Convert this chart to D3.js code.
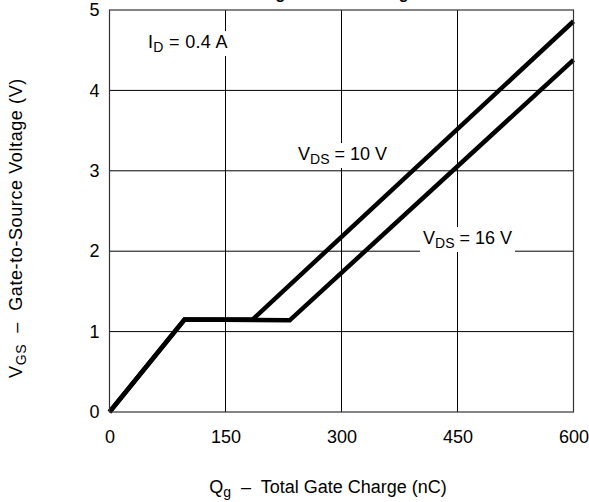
<!DOCTYPE html>
<html><head><meta charset="utf-8">
<script src="https://cdn.jsdelivr.net/npm/d3@7"></script>
<style>html,body{margin:0;padding:0;background:#fff;}svg{display:block;font-family:"Liberation Sans",Arial,sans-serif;}</style>
</head><body>
<script>
const xTicks = [0, 150, 300, 450, 600];
const yTicks = [0, 1, 2, 3, 4, 5];
const seriesNames = ["VDS = 10 V", "VDS = 16 V"];
const q10 = [0, 97, 185, 600];
const v10 = [0, 1.15, 1.15, 4.86];
const q16 = [0, 97, 233, 600];
const v16 = [0, 1.15, 1.14, 4.38];

const W = 589, H = 502;
const m = {left: 109.5, right: 573.5, top: 10, bottom: 412};
const FS = 18;
const svg = d3.select("body").append("svg").attr("width", W).attr("height", H);
const x = d3.scaleLinear().domain([0, 600]).range([m.left, m.right]);
const y = d3.scaleLinear().domain([0, 5]).range([m.bottom, m.top]);

// title (mostly cut off at the top edge, as in the reference)
svg.append("text").attr("x", 199).attr("y", -1)
  .attr("font-weight", "bold").attr("font-size", 16).text("Gate Charge vs Gate Voltage");

// grid
const g = svg.append("g");
g.selectAll(".vg").data(xTicks.slice(1, -1)).enter().append("line")
  .attr("x1", d => x(d)).attr("x2", d => x(d)).attr("y1", m.top).attr("y2", m.bottom)
  .attr("stroke", "#000").attr("stroke-width", 1);
g.selectAll(".hg").data(yTicks.slice(1, -1)).enter().append("line")
  .attr("x1", m.left).attr("x2", m.right).attr("y1", d => y(d)).attr("y2", d => y(d))
  .attr("stroke", "#000").attr("stroke-width", 1);

// axes labels via d3 axes
const xAxis = svg.append("g").attr("transform", `translate(0,${m.bottom})`)
  .call(d3.axisBottom(x).tickValues(xTicks).tickFormat(d3.format("d")).tickSize(0).tickPadding(18));
xAxis.select(".domain").remove();
xAxis.selectAll("text").attr("font-size", FS)
  .attr("font-family", "Liberation Sans, Arial, sans-serif").attr("fill", "#000");
const yAxis = svg.append("g").attr("transform", `translate(${m.left},0)`)
  .call(d3.axisLeft(y).tickValues(yTicks).tickFormat(d3.format("d")).tickSize(0).tickPadding(10));
yAxis.select(".domain").remove();
yAxis.selectAll("text").attr("font-size", FS)
  .attr("font-family", "Liberation Sans, Arial, sans-serif").attr("fill", "#000");

// series
const line = d3.line().x(d => x(d[0])).y(d => y(d[1]));
const series = [d3.zip(q10, v10), d3.zip(q16, v16)];
svg.selectAll(".ser").data(series.slice().reverse()).enter().append("path")
  .attr("d", line).attr("fill", "none").attr("stroke", "#000").attr("stroke-width", 4.5)
  .attr("stroke-linejoin", "miter");

// border
svg.append("rect").attr("x", m.left).attr("y", m.top).attr("width", m.right - m.left).attr("height", m.bottom - m.top)
  .attr("fill", "none").attr("stroke", "#333").attr("stroke-width", 1.2);

function label(xp, yp, main, sub, rest, ls) {
  const t = svg.append("text").attr("x", xp).attr("y", yp).attr("font-size", FS).attr("letter-spacing", ls);
  t.append("tspan").text(main);
  t.append("tspan").attr("font-size", 14).attr("dy", 4).text(sub);
  t.append("tspan").attr("dy", -4).text(rest);
  const b = t.node().getBBox();
  svg.insert("rect", function(){ return t.node(); }).attr("x", b.x - 3).attr("y", b.y - 1)
    .attr("width", b.width + 6).attr("height", b.height + 2).attr("fill", "#fff");
  return t;
}
label(148, 48, "I", "D", " = 0.4 A", 0.3);
label(298, 160, "V", "DS", " = 10 V", 0);
label(423, 244, "V", "DS", " = 16 V", 0);

// axis titles
const xt = svg.append("text").attr("x", 328).attr("y", 493).attr("text-anchor", "middle")
  .attr("font-size", FS).attr("xml:space", "preserve");
xt.append("tspan").text("Q");
xt.append("tspan").attr("font-size", 14).attr("dy", 4).text("g");
xt.append("tspan").attr("dy", -4).text("  \u2013  Total Gate Charge (nC)");
const yt = svg.append("text").attr("transform", `translate(22,228) rotate(-90)`).attr("text-anchor", "middle")
  .attr("font-size", FS).attr("letter-spacing", 0.6).attr("xml:space", "preserve");
yt.append("tspan").text("V");
yt.append("tspan").attr("font-size", 14).attr("dy", 4).text("GS");
yt.append("tspan").attr("dy", -4).text("  \u2013  Gate-to-Source Voltage (V)");
</script>
</body></html>
